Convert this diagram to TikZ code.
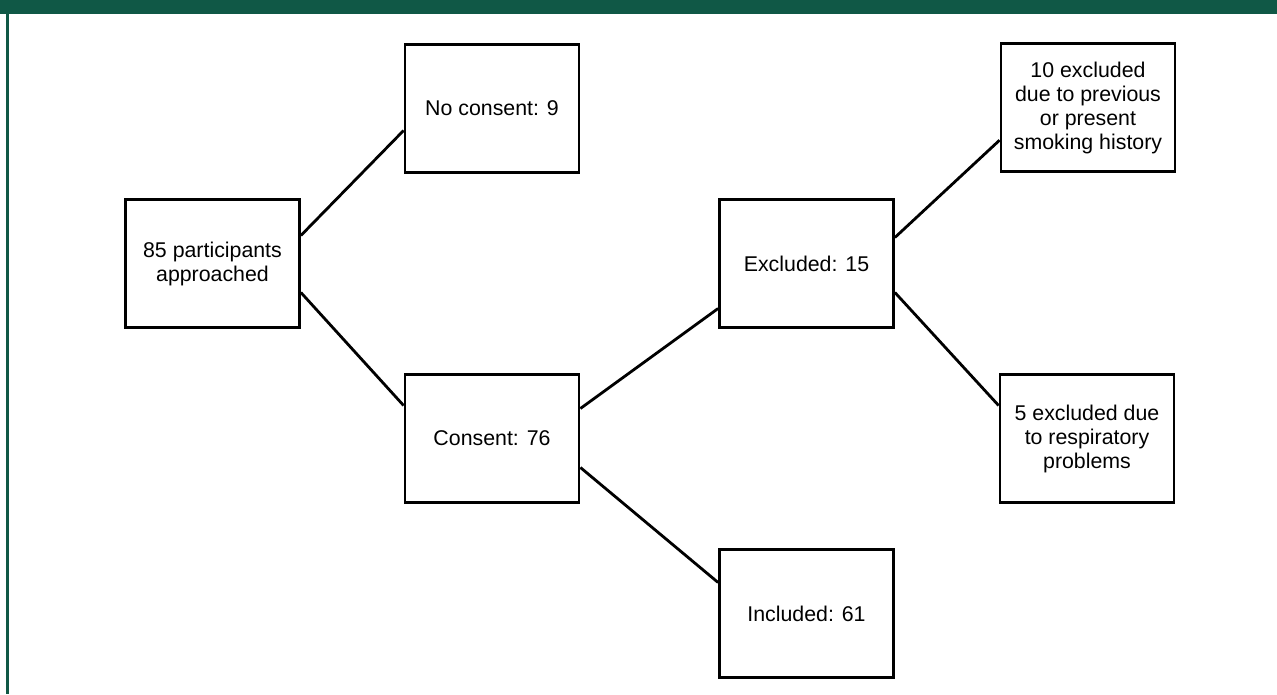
\documentclass[tikz,border=0pt]{standalone}
\usepackage{fontspec}
\setmainfont{Liberation Sans}
\usetikzlibrary{arrows}
\usetikzlibrary{shapes}
\definecolor{headgreen}{RGB}{16,88,70}

\begin{document}
\begin{tikzpicture}[x = 0.75pt, y = 0.75pt, font=\fontsize{16}{18}\selectfont]
	\tikzstyle{boxStyle}=[shape = rectangle, draw, line width = 2.1pt, minimum width = 130.5pt, minimum height = 96pt, align = center, inner sep = 2pt]
	\tikzstyle{linkStyle}=[line width = 2.1pt]
	\useasboundingbox (0, 0) rectangle (1277, 694);
	\fill[headgreen] (0, 680) rectangle (1277, 694);
	\fill[headgreen] (6, 0) rectangle (8.5, 680);
	\node[boxStyle] (appr) at (212.5, 430.5) {85 participants\\approached};
	\node[boxStyle] (nocons) at (492, 585.5) {No consent: 9};
	\node[boxStyle] (cons) at (492, 255.5) {Consent: 76};
	\node[boxStyle] (excl) at (806.5, 430.5) {Excluded: 15};
	\node[boxStyle] (incl) at (806.5, 80.5) {Included: 61};
	\node[boxStyle] (smok) at (1088, 586.5) {10 excluded\\due to previous\\or present\\smoking history};
	\node[boxStyle] (resp) at (1087, 255.5) {5 excluded due\\to respiratory\\problems};
	\draw[linkStyle] ([yshift = 21pt]appr.east) -- ([yshift = -16.5pt]nocons.west);
	\draw[linkStyle] ([yshift = -21.75pt]appr.east) -- ([yshift = 24.75pt]cons.west);
	\draw[linkStyle] ([yshift = 22.5pt]cons.east) -- ([yshift = -33.75pt]excl.west);
	\draw[linkStyle] ([yshift = -21.75pt]cons.east) -- ([yshift = 23.25pt]incl.west);
	\draw[linkStyle] ([yshift = 19.5pt]excl.east) -- ([yshift = -24.5pt]smok.west);
	\draw[linkStyle] ([yshift = -21.75pt]excl.east) -- ([yshift = 24.75pt]resp.west);
\end{tikzpicture}
\end{document}
